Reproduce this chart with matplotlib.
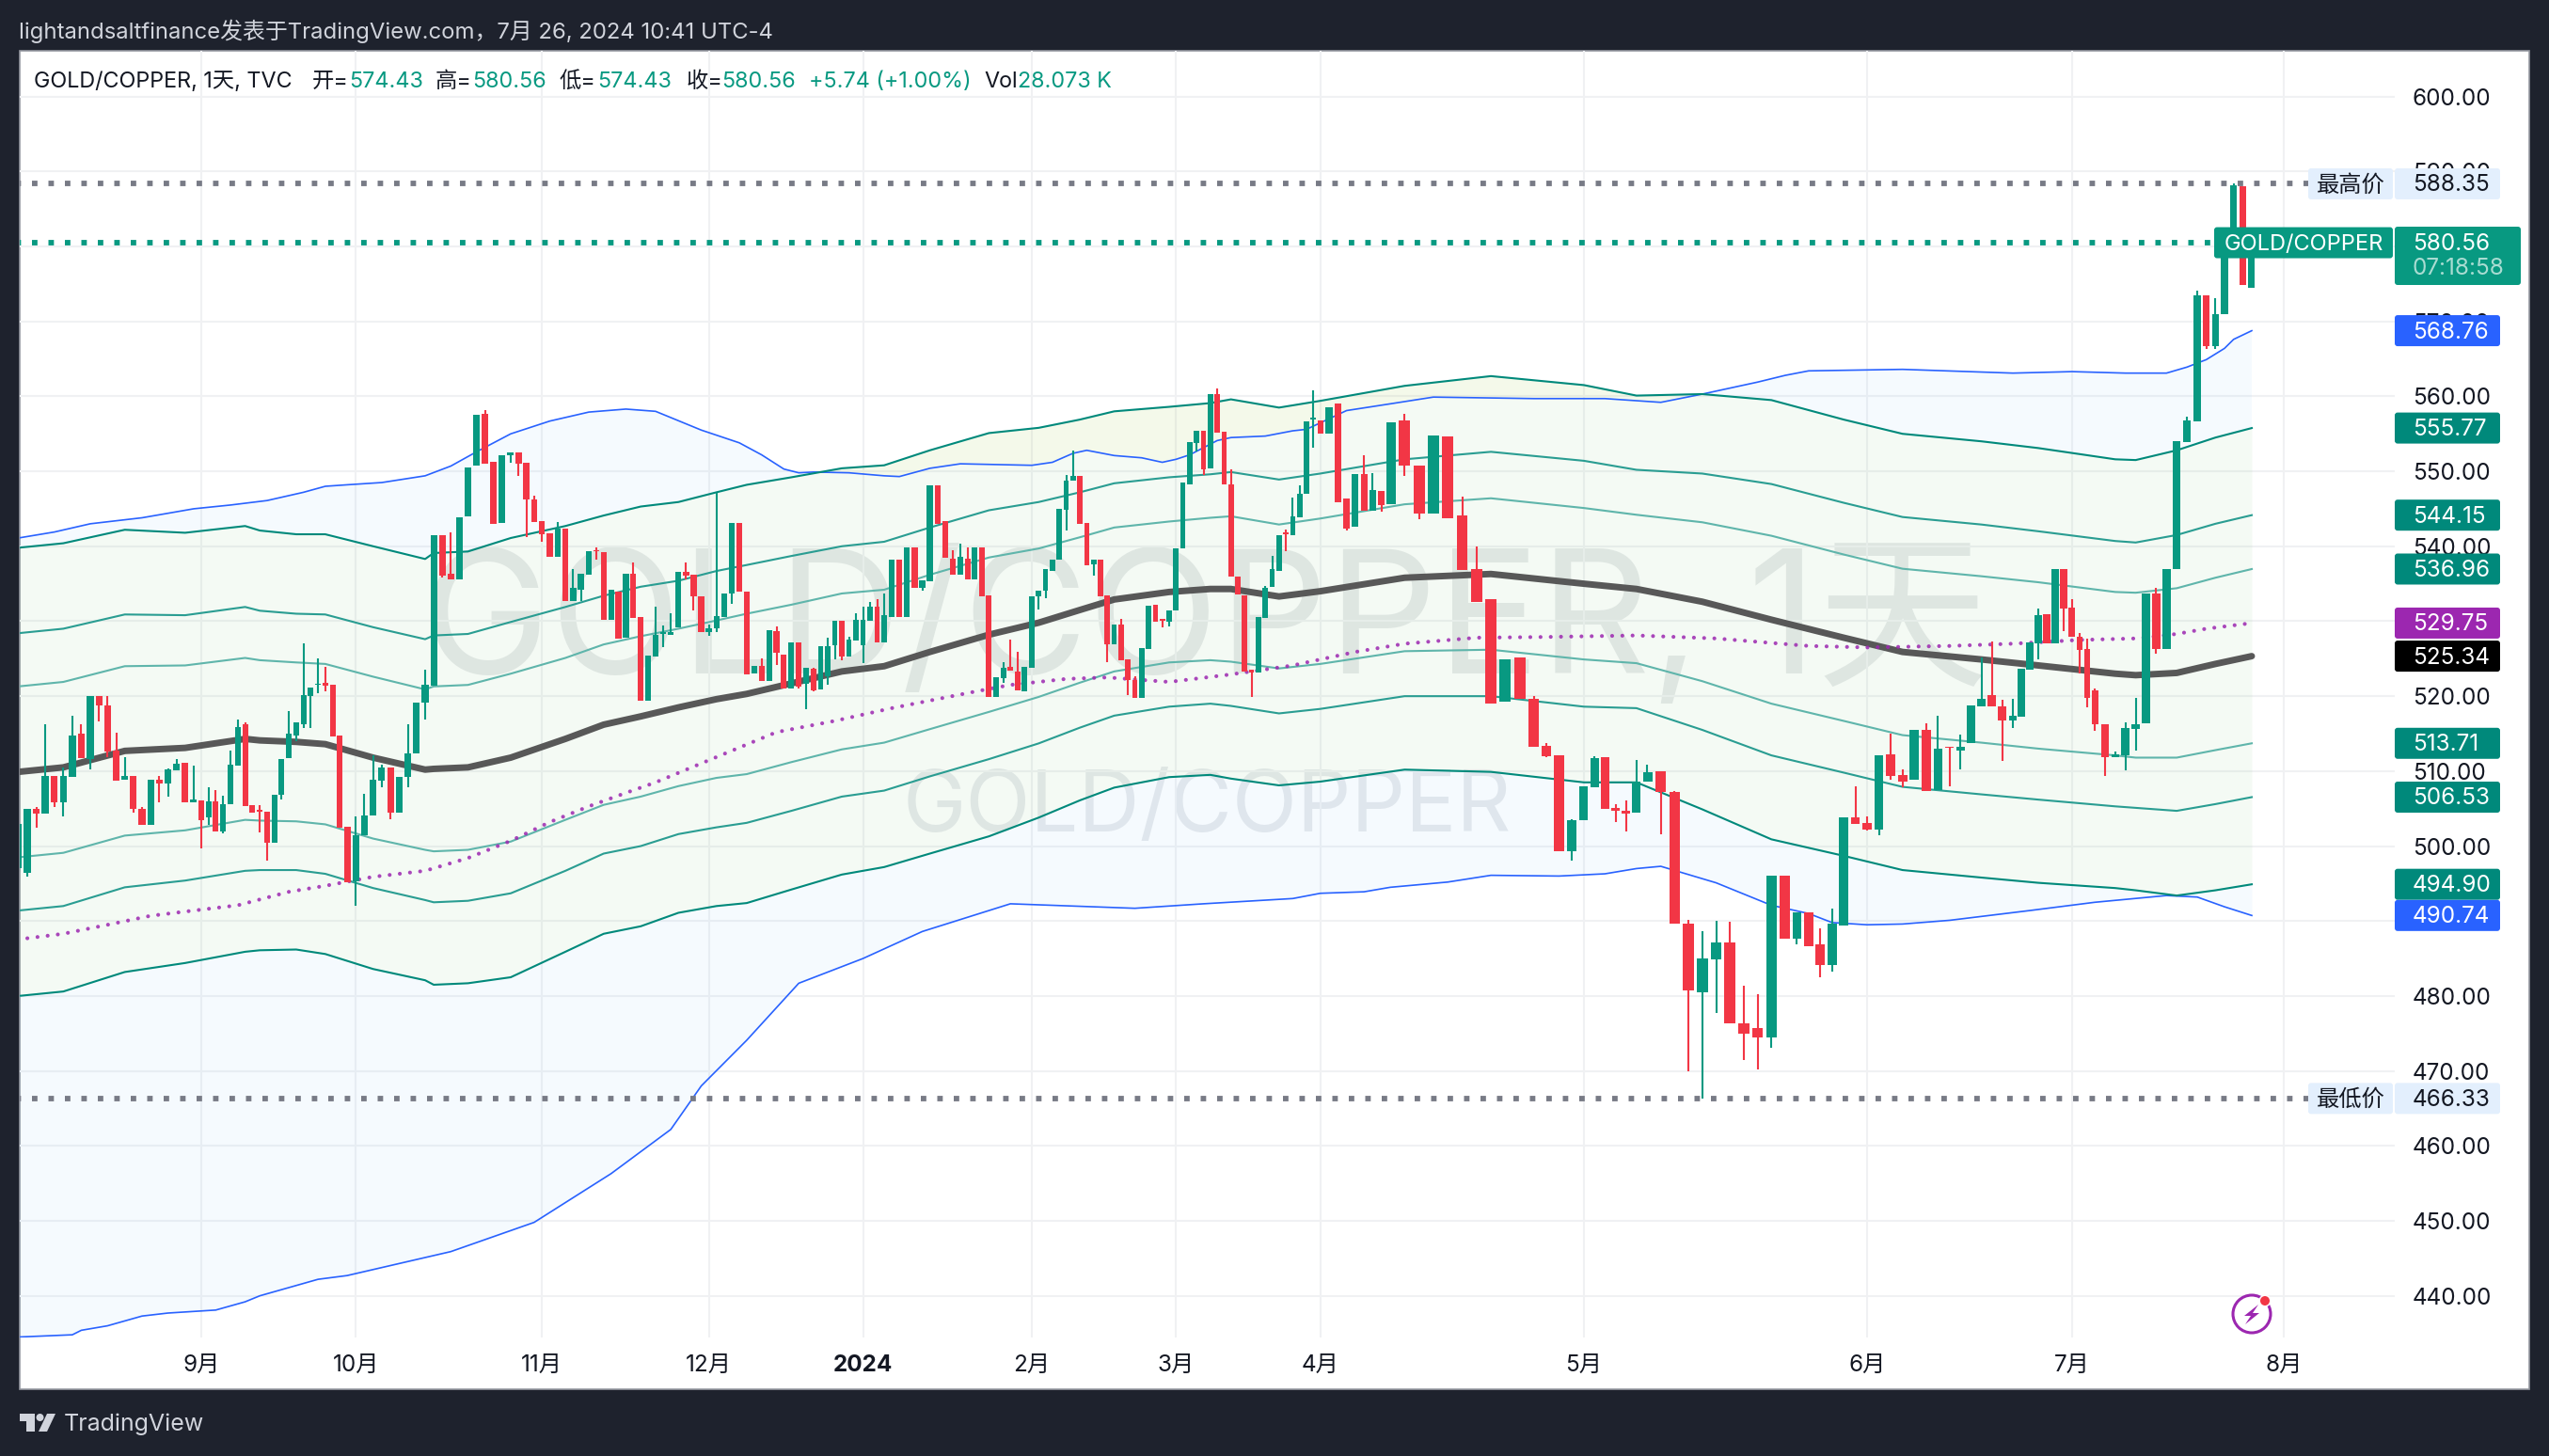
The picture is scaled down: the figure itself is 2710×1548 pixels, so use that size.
import numpy as np
import matplotlib
matplotlib.use("Agg")
import matplotlib.pyplot as plt
from matplotlib.patches import Rectangle, FancyBboxPatch, Polygon, Circle

# candles, one entry per daily bar
opens = [
    497.0,496.4,505.0,504.3,509.4,505.9,509.2,515.0,511.6,520.0,
    518.8,512.7,508.9,509.3,505.0,502.8,508.8,508.3,510.1,511.1,
    505.9,506.1,503.8,506.0,501.9,505.6,510.7,516.2,505.5,504.8,
    504.6,500.5,506.8,511.7,514.8,516.3,520.0,521.5,521.8,521.5,
    514.7,502.6,495.3,501.4,504.1,508.7,510.5,504.5,509.2,512.4,
    519.1,521.4,541.5,536.3,535.6,544.0,550.7,557.7,551.3,543.1,
    552.2,552.5,551.1,546.2,543.3,541.7,538.6,542.4,532.7,534.2,
    536.2,539.5,539.2,530.2,534.0,527.8,536.3,530.5,519.4,525.3,
    528.3,528.2,529.2,536.6,536.2,533.3,528.5,529.0,530.5,533.7,
    543.1,533.9,523.0,524.0,522.0,528.7,525.5,521.0,527.2,521.6,
    523.6,520.9,522.7,526.8,530.0,525.3,527.4,526.8,530.0,532.0,
    527.2,530.6,538.2,530.5,539.8,534.4,535.3,548.1,543.3,538.4,
    536.2,538.4,535.6,539.8,533.4,519.9,522.4,523.9,523.3,520.6,
    523.8,533.3,534.1,536.7,538.2,544.9,548.7,549.4,543.1,537.6,
    538.2,533.4,526.9,529.5,524.9,522.2,519.8,526.3,532.2,530.3,
    529.9,531.4,539.7,548.2,553.8,555.4,550.4,560.3,555.3,548.2,
    535.9,533.5,523.5,523.1,530.4,534.6,536.7,541.9,541.5,543.8,
    547.0,556.9,556.8,555.0,559.0,546.4,542.6,549.6,544.8,547.4,
    545.6,556.8,550.8,544.3,554.7,544.1,537.0,532.9,519.3,525.2,
    519.7,513.4,512.1,499.3,503.5,507.9,511.8,505.1,504.7,504.5,
    508.6,510.0,507.2,489.7,480.5,484.9,487.2,476.3,475.7,474.5,
    496.1,487.7,491.1,486.9,484.1,489.4,503.8,503.1,502.2,512.3,
    509.5,508.8,515.5,507.5,513.3,512.8,513.7,518.6,520.1,518.6,
    516.7,517.2,523.5,527.1,530.9,527.1,537.0,531.8,527.9,526.3,
    520.8,516.3,511.9,512.1,515.6,516.4,533.7,526.3,537.0,553.9,
    556.7,573.5,566.7,571.0,579.8,588.0,574.43]
highs = [
    503.0,505.0,505.2,516.2,509.4,510.5,517.4,516.3,520.0,520.0,
    520.0,515.1,511.8,509.3,505.2,508.8,509.4,510.3,511.6,511.1,
    510.7,506.1,507.8,507.5,506.7,512.7,516.9,516.5,505.5,505.5,
    504.6,506.9,511.6,518.0,516.5,527.0,521.2,525.1,523.9,521.5,
    514.7,502.6,504.0,507.0,512.1,510.9,510.5,509.2,516.2,519.2,
    523.5,541.5,541.5,541.8,543.9,550.5,557.5,558.2,551.3,552.1,
    552.5,552.5,551.1,546.7,543.3,541.7,543.2,542.4,536.9,536.3,
    539.4,539.9,539.2,534.2,534.0,536.3,537.8,530.5,525.4,532.0,
    529.4,531.0,536.6,537.9,536.2,533.3,529.5,547.1,533.7,543.1,
    543.1,533.9,524.0,525.1,528.8,529.3,525.5,527.2,527.2,523.8,
    523.8,526.7,527.8,530.0,530.0,527.9,531.0,532.0,532.6,533.0,
    533.7,538.2,538.2,539.8,539.8,535.4,548.1,548.1,543.3,539.5,
    540.3,539.9,539.8,539.8,533.4,522.5,524.5,527.5,525.9,523.9,
    533.3,534.1,536.9,538.2,545.0,549.5,552.8,549.4,543.1,538.2,
    538.2,533.4,529.5,530.3,524.9,522.6,526.4,532.1,532.2,530.3,
    531.4,539.7,548.5,553.9,555.4,555.4,560.3,561.0,555.3,550.3,
    535.9,533.5,523.5,530.5,534.7,538.7,541.5,542.2,546.5,548.1,
    556.6,560.8,556.8,558.5,559.0,546.4,549.6,552.1,549.7,547.4,
    556.5,557.7,550.8,554.8,554.7,546.6,540.0,532.9,524.9,525.2,
    520.0,513.7,512.1,503.6,508.0,512.0,511.8,505.6,506.1,511.5,
    510.8,510.0,507.3,490.2,488.7,490.0,489.9,481.4,480.3,496.0,
    496.1,491.1,491.2,489.0,491.7,503.8,508.0,504.0,512.1,515.0,
    510.2,515.5,516.4,517.4,513.3,514.9,518.8,525.2,527.3,519.5,
    519.7,523.6,527.2,531.7,530.9,537.0,537.0,532.9,528.4,527.7,
    521.0,516.3,512.6,516.5,519.8,533.7,534.4,537.0,554.0,557.3,
    574.1,573.5,573.1,579.6,588.35,588.0,580.56]
lows = [
    496.5,495.9,502.4,504.3,505.2,504.0,509.2,511.7,510.2,516.6,
    511.9,508.7,508.9,504.4,502.8,502.8,505.8,506.6,510.1,505.9,
    505.9,499.7,502.8,501.9,501.7,505.6,510.7,505.4,504.5,501.8,
    498.0,500.5,506.2,511.7,514.0,515.7,515.8,520.4,520.6,514.6,
    502.4,495.2,492.0,501.4,504.1,507.9,503.6,504.5,507.9,512.4,
    516.9,521.4,535.8,535.6,535.6,544.0,550.7,551.0,543.0,543.1,
    551.1,549.4,541.2,543.2,540.6,538.6,538.6,532.7,532.7,532.7,
    536.2,538.2,530.2,530.2,527.7,527.8,530.4,519.4,519.4,525.3,
    526.5,528.2,529.2,535.6,531.4,528.6,528.0,528.5,530.5,532.3,
    533.9,522.9,523.0,522.0,522.0,524.2,521.0,521.0,521.0,518.3,
    520.6,520.9,521.5,524.9,524.8,525.3,527.4,524.4,530.0,527.2,
    527.2,530.6,530.6,530.5,534.4,534.1,535.3,543.0,538.5,536.2,
    536.2,535.6,535.6,533.3,519.9,519.9,521.8,523.4,520.8,520.6,
    523.8,531.6,533.1,536.7,538.2,542.1,548.7,543.0,537.5,536.1,
    533.3,524.5,526.9,524.8,520.2,519.8,519.8,526.3,529.9,529.2,
    529.3,531.4,539.7,548.2,552.6,549.5,550.4,555.1,548.2,535.9,
    533.6,523.3,519.9,523.1,530.4,534.6,536.7,539.4,541.5,543.8,
    547.0,553.1,555.0,555.0,545.9,542.1,542.6,544.8,544.8,544.6,
    545.6,549.4,543.6,544.3,543.7,536.8,532.6,519.0,519.3,519.6,
    513.2,511.9,499.3,498.1,503.5,507.9,505.0,503.2,501.9,504.5,
    508.6,501.6,489.7,470.0,466.33,477.7,476.3,471.5,470.2,473.1,
    487.7,486.9,486.7,482.5,483.2,489.4,503.0,502.1,501.4,508.8,
    507.8,508.8,507.3,507.5,508.0,510.2,513.7,518.6,518.6,511.3,
    515.8,517.2,523.5,524.9,527.1,527.1,528.7,527.9,523.0,518.5,
    515.4,509.4,511.9,510.1,512.8,516.4,525.7,526.3,537.0,553.9,
    556.7,566.3,566.3,571.0,579.8,574.82,574.43]
closes = [
    503.0,505.0,504.3,509.4,505.8,509.3,514.8,511.7,520.0,518.8,
    512.6,508.7,509.3,505.0,502.8,508.8,508.3,510.2,511.0,505.9,
    506.2,503.5,506.0,501.9,505.6,510.8,515.9,505.4,504.5,504.6,
    500.5,506.9,511.6,515.0,516.5,520.2,521.2,521.7,521.4,514.6,
    502.4,495.2,501.5,504.1,508.8,510.5,504.5,509.2,512.4,519.2,
    521.5,541.5,536.1,535.6,543.9,550.5,557.5,551.0,543.0,552.1,
    552.5,551.0,546.3,543.2,541.6,538.6,542.4,532.7,534.4,536.3,
    539.4,539.3,530.2,534.2,527.7,536.3,530.4,519.4,525.4,528.2,
    528.5,528.6,536.6,536.1,533.3,528.6,529.0,530.7,533.7,543.1,
    533.9,522.9,524.0,522.0,528.8,525.8,521.0,527.2,521.3,523.8,
    520.8,526.7,526.7,530.0,525.3,527.5,530.2,530.2,532.0,527.2,
    530.8,538.2,530.6,539.8,534.4,535.4,548.1,543.0,538.5,536.2,
    538.6,535.6,539.8,533.3,519.9,522.5,523.8,523.4,520.8,523.9,
    533.3,534.1,536.9,538.2,545.0,548.7,549.4,543.0,537.5,538.2,
    533.3,526.9,529.5,524.8,522.1,519.8,526.4,532.1,529.9,530.0,
    531.4,539.7,548.5,553.9,555.4,550.3,560.3,555.1,548.2,535.9,
    533.6,523.3,523.2,530.5,534.4,536.9,541.5,541.6,544.0,547.0,
    556.6,557.2,555.0,558.5,545.9,542.3,549.6,544.8,547.5,545.5,
    556.5,550.7,544.3,554.8,543.7,536.8,532.6,519.0,524.9,519.6,
    513.2,512.0,499.3,503.5,508.0,511.7,505.0,504.7,504.3,508.6,
    509.8,507.2,489.7,480.7,485.0,487.2,476.3,475.0,474.5,496.0,
    487.7,491.1,486.7,484.1,489.6,503.8,503.0,502.2,512.1,509.4,
    508.6,515.5,507.3,513.0,513.1,513.3,518.8,519.7,518.6,516.8,
    517.4,523.6,527.2,530.8,527.1,537.0,531.7,527.9,526.2,519.8,
    516.3,511.9,512.2,515.8,516.3,533.7,526.3,537.0,554.0,556.8,
    573.5,566.7,571.0,579.6,588.1,574.82,580.56]

# bands, read at these bars
band_idx = [0,5,12,19,27,29,34,38,44,50,51,55,60,67,72,77,82,87,91,97,104,110,116,124,131,137,142,
            150,156,159,166,172,181,187,194,199,204,209,215,220,227,233,242,244,248,252,256]
basis = [509.9,510.5,512.7,513.1,514.3,514.1,513.9,513.6,511.8,510.2,510.3,510.5,511.8,514.3,516.2,517.3,518.5,519.6,520.3,521.7,523.3,524.0,525.9,528.2,529.8,531.5,532.9,
         533.9,534.3,534.3,533.3,534.0,535.8,536.3,535.0,534.3,532.6,530.2,527.8,525.9,524.9,524.1,523.0,522.8,523.1,524.3,525.34]
upper3 = [539.8,540.4,542.2,541.8,542.7,542.1,541.6,541.6,540.0,538.3,539.1,539.3,541.1,542.7,544.1,545.3,545.9,547.2,548.2,549.2,550.4,550.8,552.8,555.1,555.8,556.9,558.0,
          558.6,559.1,559.6,558.5,559.4,561.4,562.7,561.5,560.1,560.3,559.5,556.9,555.0,554.0,553.1,551.6,551.5,552.8,554.5,555.77]
upper2 = [528.4,529.0,530.9,530.8,531.9,531.4,531.0,530.9,529.2,527.6,528.1,528.3,529.9,531.9,533.4,534.6,535.4,536.7,537.5,538.7,540.0,540.6,542.5,544.8,545.9,547.2,548.4,
          549.2,549.6,549.9,548.9,549.7,551.6,552.6,551.4,550.2,549.7,548.3,545.8,543.9,542.9,542.0,540.7,540.5,541.5,543.0,544.15]
upper1 = [521.3,521.9,524.0,524.1,525.1,524.8,524.5,524.3,522.6,520.9,521.3,521.5,523.0,525.1,526.9,528.0,529.0,530.1,531.0,532.2,533.7,534.2,536.2,538.5,539.7,541.2,542.5,
          543.3,543.8,544.0,542.9,543.7,545.6,546.4,545.1,544.2,543.2,541.4,538.9,537.0,536.0,535.2,533.9,533.8,534.4,535.8,536.96]
lower1 = [498.5,499.1,501.4,502.1,503.5,503.4,503.3,502.9,501.0,499.5,499.3,499.5,500.6,503.5,505.5,506.6,508.0,509.1,509.6,511.2,512.9,513.8,515.6,517.9,519.9,521.8,523.3,
          524.5,524.8,524.6,523.7,524.3,526.0,526.2,524.9,524.4,522.0,519.0,516.7,514.8,513.8,513.0,512.1,511.8,511.8,512.8,513.71]
lower2 = [491.4,492.0,494.5,495.4,496.7,496.8,496.8,496.3,494.4,492.8,492.5,492.7,493.7,496.7,499.0,500.0,501.6,502.5,503.1,504.7,506.6,507.4,509.3,511.6,513.7,515.8,517.4,
          518.6,519.0,518.7,517.7,518.3,520.0,520.0,518.6,518.4,515.5,512.1,509.8,507.9,506.9,506.2,505.3,505.1,504.7,505.6,506.53]
lower3 = [480.0,480.6,483.2,484.4,485.9,486.1,486.2,485.6,483.6,482.1,481.5,481.7,482.5,485.9,488.3,489.3,491.1,492.0,492.4,494.2,496.2,497.2,499.0,501.3,503.8,506.1,507.8,
          509.2,509.5,509.0,508.1,508.6,510.2,509.9,508.5,508.5,504.9,500.9,498.7,496.8,495.8,495.1,494.4,494.1,493.4,494.1,494.90]

blue_up_idx = [0,4,8,14,20,25,30,35,38,41,45,50,53,56,60,65,70,75,79,85,90,93,96,98,100,105,110,112,116,120,125,130,133,136,138,142,146,149,151,153,157,159,164,168,170,175,180,183,190,196,201,204,208,210,212,220,230,237,243,247,249,251,253,254,256]
blue_up = [541.1,541.9,543.0,543.8,545.0,545.5,546.1,547.2,548.0,548.2,548.5,549.4,550.7,552.6,555.0,556.7,557.9,558.3,558.0,555.5,553.8,552.2,550.3,549.8,549.9,549.8,549.4,549.3,550.4,551.0,550.9,550.8,551.2,552.4,552.8,552.1,551.8,551.2,551.6,552.2,554.1,554.5,554.7,555.4,555.6,558.1,559.0,559.9,559.7,559.7,559.2,560.3,561.9,562.8,563.4,563.6,563.1,563.3,563.1,563.1,563.9,564.9,566.4,567.6,568.76]
blue_lo_idx = [0,6,7,10,14,17,23,27,29,37,41,53,63,73,81,85,91,98,107,115,127,145,155,168,172,177,180,184,187,192,196,199,201,205,207,209,212,214,217,220,224,232,240,247,250,253,256]
blue_lo = [434.5,434.8,435.4,436.0,437.3,437.7,438.1,439.2,440.0,442.2,442.7,445.9,449.8,456.3,462.2,468.0,474.1,481.7,485.0,488.6,492.3,491.7,492.3,493.0,493.7,493.9,494.5,495.2,496.1,496.0,496.3,497.0,497.3,495.1,493.6,492.1,491.0,489.8,489.5,489.6,490.1,491.4,492.5,493.4,493.2,491.9,490.74]
ma_idx = [1,5,10,15,20,26,33,38,44,50,55,60,65,70,75,79,95,103,111,122,127,135,141,150,159,168,170,176,181,186,191,199,205,212,217,224,230,238,244,248,251,256]
ma_dots = [487.7,488.3,489.5,490.7,491.4,492.1,493.9,494.7,495.9,496.7,498.4,500.7,503.2,505.3,507.1,508.5,515.2,516.7,518.4,520.6,521.5,522.3,522.5,521.9,522.9,524.1,524.5,525.9,527.0,527.8,527.9,528.1,527.7,526.7,526.5,526.7,527.0,527.5,527.7,528.3,529.0,529.75]

month_idx = [21,42,64,86,107,130,151,172,194,217,237,260]
month_labels = ['9月','10月','11月','12月','2024','2月','3月','4月','5月','6月','7月','8月']
price_ticks = list(range(440, 610, 10))
high_price = 588.35
low_price = 466.33
last_price = 580.56

plt.rcParams['font.family'] = ['Inter', 'Noto Sans CJK SC', 'DejaVu Sans']
W, H = 2710, 1548
DARK = '#1e222d'
GREEN = '#089981'
RED = '#f23645'
TEAL = '#00897b'
BLUE = '#2962ff'
PURPLE = '#9c27b0'
INK = '#131722'

fig = plt.figure(figsize=(W/100, H/100), dpi=100, facecolor=DARK)
fig.patches.append(Rectangle((20.5/W, 1-1477/H), (2689-20.5)/W, (1477-54)/H, transform=fig.transFigure,
                             facecolor='white', edgecolor='#9598a1', linewidth=1.2, zorder=-5))
ax = fig.add_axes([20.5/W, 1-1422/H, (2546-20.5)/W, (1422-54)/H])
ax.patch.set_visible(False)

# bar spacing in the picture is not even, so the x scale follows where bars really sit
knot_idx = [-50,-1,0,8,20,30,41,50,60,70,79,90,100,110,120,130,140,150,160,170,172,180,190,194,200,210,217,224,230,237,240,250,256,260,274,400]
knot_px = [-400,11,19.5,96,206,284,369,452,543,626,697,786,865,940,1021,1097,1170,1243,1316,1389,1403.7,1478,1631,1684,1751,1898,1985,2073,2140,2203,2227,2336,2394,2428,2546,3600]
def to_px(x):
    return np.interp(x, knot_idx, knot_px)
def from_px(p):
    return np.interp(p, knot_px, knot_idx)
ax.set_xscale('function', functions=(to_px, from_px))
ax.set_xlim(float(from_px(20.5)), float(from_px(2546)))
ax.set_ylim(434.44, 606.1)

# watermarks under everything
ov = fig.add_axes([0, 0, 1, 1], zorder=10)
ov.set_xlim(0, W)
ov.set_ylim(H, 0)
ov.axis('off')
ov.patch.set_visible(False)
under = fig.add_axes([0, 0, 1, 1], zorder=-1)
under.set_xlim(0, W)
under.set_ylim(H, 0)
under.axis('off')
under.patch.set_visible(False)
under.text(1281, 668, 'GOLD/COPPER, 1天', fontsize=131, color='#e8eaeb', ha='center', va='center')
under.text(1283, 860, 'GOLD/COPPER', fontsize=65, color='#e8eaed', ha='center', va='center')

# fills
grid_x = np.arange(0, 257)
u3 = np.interp(grid_x, band_idx, upper3)
l3 = np.interp(grid_x, band_idx, lower3)
bu = np.interp(grid_x, blue_up_idx, blue_up)
bl = np.interp(grid_x, blue_lo_idx, blue_lo)
ax.fill_between(grid_x, u3, l3, color='#4caf50', alpha=0.06, lw=0, zorder=1)
ax.fill_between(grid_x, u3, bu, where=bu >= u3, interpolate=True, color='#2196f3', alpha=0.045, lw=0, zorder=1)
ax.fill_between(grid_x, u3, bu, where=bu <= u3, interpolate=True, color='#ffeb3b', alpha=0.05, lw=0, zorder=1)
ax.fill_between(grid_x, l3, bl, color='#2196f3', alpha=0.045, lw=0, zorder=1)

# band lines
ax.plot(blue_up_idx, blue_up, color=BLUE, lw=1.2, zorder=2)
ax.plot(blue_lo_idx, blue_lo, color=BLUE, lw=1.2, zorder=2)
for vals, col in [(upper3, TEAL), (lower3, TEAL), (upper2, '#2a9d92'), (lower2, '#2a9d92'),
                  (upper1, '#5fb5ab'), (lower1, '#5fb5ab')]:
    ax.plot(band_idx, vals, color=col, lw=1.5, zorder=2)
ax.plot(band_idx, basis, color='#585858', lw=5.0, solid_capstyle='round', zorder=3)
ax.plot(ma_idx, ma_dots, color=PURPLE, alpha=0.85, lw=3.0, linestyle=(0, (0.01, 2.6)),
        dash_capstyle='round', zorder=3)

# price lines
for price, col in [(high_price, '#787b86'), (last_price, GREEN), (low_price, '#787b86')]:
    ax.plot([-5, 270], [price, price], color=col, lw=4.2, linestyle=(0, (1, 2)),
            dash_capstyle='butt', zorder=4, scalex=False, scaley=False)

# candles
bars = np.arange(len(opens))
o = np.array(opens)
c = np.array(closes)
cols = [GREEN if c[i] >= o[i] else RED for i in bars]
ax.vlines(bars, lows, highs, colors=cols, lw=1.5, zorder=5)
ax.bar(bars, np.abs(c-o), bottom=np.minimum(o, c), width=0.78, color=cols, lw=0, zorder=5)

# axes
ax.grid(True, color='#f0f1f3', lw=1.5)
ax.set_axisbelow(True)
for s in ax.spines.values():
    s.set_visible(False)
ax.set_xticks(month_idx, month_labels)
ax.minorticks_off()
ax.yaxis.tick_right()
ax.set_yticks(price_ticks, ['%.2f' % p for p in price_ticks])
ax.tick_params(axis='x', length=0, pad=13, labelsize=17.5, labelcolor=INK)
ax.tick_params(axis='y', length=0, pad=13.5, labelsize=17.5, labelcolor=INK)
for t in ax.get_yticklabels():
    t.set_ha('left')
for t in ax.get_xticklabels():
    if t.get_text() == '2024':
        t.set_fontweight('bold')

# pixel y for a price, so tags sit where the scale puts them
def y_px(price):
    return H - ax.transData.transform((0, price))[1]

def tag(x0, x1, yc, col, txt=None, tc='white', h=33, tx=2565, ta='left', fs=17.5):
    ov.add_patch(FancyBboxPatch((x0+2, yc-h/2+2), x1-x0-4, h-4, boxstyle='round,pad=2,rounding_size=3',
                                facecolor=col, edgecolor='none', zorder=6))
    if txt:
        ov.text(tx, yc+1.5, txt, color=tc, fontsize=fs, ha=ta, va='center', zorder=7)

tag(2546, 2658, y_px(high_price), '#e3effd', '588.35', INK)
tag(2454, 2544, y_px(high_price), '#e3effd', '最高价', INK, tx=2499, ta='center')
tag(2546, 2658, y_px(low_price), '#e3effd', '466.33', INK)
tag(2454, 2544, y_px(low_price), '#e3effd', '最低价', INK, tx=2499, ta='center')
tag(2354, 2544, y_px(last_price)+0.5, GREEN, 'GOLD/COPPER', 'white', tx=2449, ta='center', fs=17)
ov.add_patch(FancyBboxPatch((2548, 243), 130, 58, boxstyle='round,pad=2,rounding_size=3',
                            facecolor=GREEN, edgecolor='none', zorder=6))
ov.text(2565, y_px(last_price)+1.5, '580.56', color='white', fontsize=17.5, va='center', zorder=7)
ov.text(2565, 286, '07:18:58', color='#a9dcd2', fontsize=17.5, va='center', zorder=7)
tag(2546, 2658, y_px(blue_up[-1]), BLUE, '568.76')
tag(2546, 2658, y_px(upper3[-1]), TEAL, '555.77')
tag(2546, 2658, y_px(upper2[-1]), TEAL, '544.15')
tag(2546, 2658, y_px(upper1[-1]), TEAL, '536.96')
tag(2546, 2658, y_px(ma_dots[-1]), PURPLE, '529.75')
tag(2546, 2658, y_px(basis[-1]), '#000000', '525.34')
tag(2546, 2658, y_px(lower1[-1]), TEAL, '513.71')
tag(2546, 2658, y_px(lower2[-1]), TEAL, '506.53')
tag(2546, 2658, y_px(lower3[-1]), TEAL, '494.90')
tag(2546, 2658, y_px(blue_lo[-1]), BLUE, '490.74')

# header and legend
ov.text(20, 33, 'lightandsaltfinance发表于TradingView.com，7月 26, 2024 10:41 UTC-4', color='#d1d4dc',
        fontsize=17.2, va='center')
legend = [(36, 'GOLD/COPPER, 1天, TVC', INK), (332, '开=', INK), (371, '574.43', GREEN),
          (463, '高=', INK), (502, '580.56', GREEN), (595, '低=', INK), (635, '574.43', GREEN),
          (730, '收=', INK), (767, '580.56', GREEN), (860, '+5.74 (+1.00%)', GREEN),
          (1046, 'Vol', INK), (1082, '28.073 K', GREEN)]
for x, txt, col in legend:
    ov.text(x, 87, txt, color=col, fontsize=16.8, va='center')

# bolt badge
ov.add_patch(Circle((2394, 1397), 20, facecolor='white', edgecolor=PURPLE, lw=2.2, zorder=6))
ov.add_patch(Polygon([(2401, 1387), (2386, 1399), (2393, 1399), (2387, 1408), (2402, 1396), (2395, 1396)],
                     facecolor=PURPLE, edgecolor='none', zorder=7))
ov.add_patch(Circle((2408, 1383), 6.5, facecolor='white', edgecolor='none', zorder=7))
ov.add_patch(Circle((2408, 1383), 5, facecolor=RED, edgecolor='none', zorder=8))

# footer logo
logo = '#d1d4dc'
ov.add_patch(Polygon([(20.5, 1503), (37, 1503), (37, 1522), (28, 1522), (28, 1511), (20.5, 1511)],
                     facecolor=logo, edgecolor='none'))
ov.add_patch(Circle((42.5, 1507), 4, facecolor=logo, edgecolor='none'))
ov.add_patch(Polygon([(50, 1503), (59, 1503), (50, 1522), (41, 1522)], facecolor=logo, edgecolor='none'))
ov.text(68, 1514, 'TradingView', color=logo, fontsize=18, va='center')

fig.savefig('out.png', dpi=100, facecolor=DARK)
